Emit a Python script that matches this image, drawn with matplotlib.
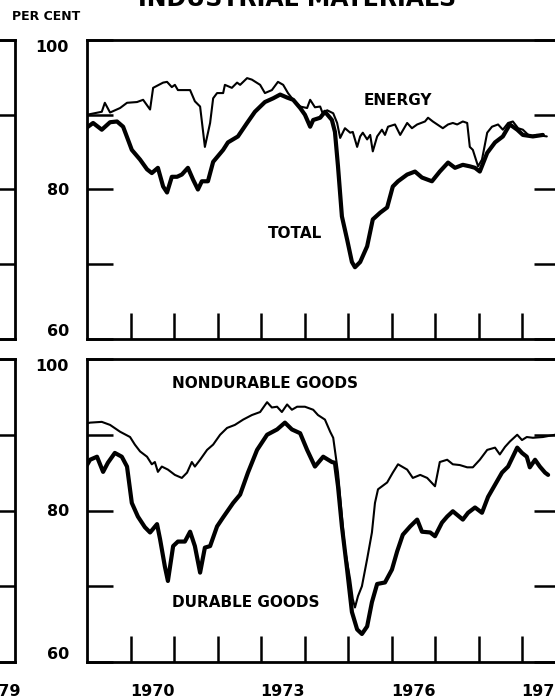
import matplotlib
matplotlib.use("Agg")
import matplotlib.pyplot as plt
import numpy as np

# --- data (decimal years, per cent of capacity) ---
energy_t = [1969.00, 1969.34, 1969.41, 1969.53, 1969.76, 1969.92, 1970.15, 1970.29, 1970.45, 1970.52,
            1970.75, 1970.84, 1970.95, 1971.02, 1971.09, 1971.37, 1971.48, 1971.60, 1971.71, 1971.83,
            1971.90, 1971.99, 1972.13, 1972.17, 1972.33, 1972.45, 1972.52, 1972.68, 1972.79, 1972.98,
            1973.09, 1973.25, 1973.39, 1973.51, 1973.62, 1973.78, 1973.90, 1974.06, 1974.13, 1974.24,
            1974.36, 1974.43, 1974.52, 1974.66, 1974.75, 1974.82, 1974.93, 1975.05, 1975.11, 1975.21,
            1975.28, 1975.34, 1975.44, 1975.51, 1975.57, 1975.67, 1975.78, 1975.85, 1975.92, 1976.08,
            1976.20, 1976.36, 1976.47, 1976.59, 1976.77, 1976.84, 1976.95, 1977.18, 1977.30, 1977.41,
            1977.51, 1977.64, 1977.74, 1977.80, 1977.87, 1977.99, 1978.08, 1978.20, 1978.31, 1978.45,
            1978.56, 1978.68, 1978.79, 1978.91, 1979.02, 1979.18, 1979.34, 1979.57]
energy_v = [90.0, 90.4, 91.6, 90.3, 90.9, 91.6, 91.7, 92.0, 90.7, 93.6,
            94.3, 94.4, 93.7, 94.0, 93.3, 93.3, 91.8, 91.1, 85.7, 88.9,
            92.2, 92.9, 92.9, 94.0, 93.6, 94.3, 94.0, 94.9, 94.7, 94.0,
            92.9, 93.3, 94.4, 94.0, 92.9, 91.7, 91.1, 90.9, 92.0, 91.0,
            91.1, 90.0, 90.6, 90.2, 88.9, 86.9, 88.2, 87.6, 87.7, 85.7,
            87.1, 87.6, 86.7, 87.3, 85.1, 87.1, 88.0, 87.3, 88.4, 88.7,
            87.3, 88.9, 88.2, 88.7, 89.1, 89.6, 89.1, 88.2, 88.7, 88.9,
            88.7, 89.1, 88.9, 85.7, 85.3, 83.1, 84.0, 87.6, 88.4, 88.7,
            88.0, 88.9, 89.1, 88.2, 88.0, 87.1, 87.3, 87.1]

total_t = [1969.00, 1969.14, 1969.34, 1969.53, 1969.69, 1969.83, 1969.94, 1970.03, 1970.22, 1970.38,
           1970.49, 1970.63, 1970.75, 1970.84, 1970.95, 1971.07, 1971.18, 1971.32, 1971.44, 1971.55,
           1971.64, 1971.78, 1971.90, 1972.13, 1972.24, 1972.47, 1972.68, 1972.86, 1973.09, 1973.28,
           1973.44, 1973.60, 1973.74, 1973.90, 1974.01, 1974.13, 1974.20, 1974.36, 1974.47, 1974.63,
           1974.70, 1974.77, 1974.86, 1974.98, 1975.09, 1975.16, 1975.28, 1975.44, 1975.57, 1975.74,
           1975.90, 1976.03, 1976.15, 1976.36, 1976.54, 1976.70, 1976.93, 1977.11, 1977.30, 1977.46,
           1977.64, 1977.80, 1977.92, 1978.03, 1978.20, 1978.38, 1978.56, 1978.72, 1978.89, 1979.02,
           1979.25, 1979.48]
total_v = [88.3, 88.9, 88.0, 89.0, 89.1, 88.4, 86.7, 85.3, 84.0, 82.7,
           82.2, 82.9, 80.4, 79.6, 81.7, 81.7, 82.0, 82.9, 81.3, 80.0,
           81.1, 81.1, 83.7, 85.3, 86.3, 87.1, 88.9, 90.4, 91.7, 92.2,
           92.7, 92.3, 92.0, 90.9, 90.0, 88.4, 89.3, 89.6, 90.4, 89.3,
           87.7, 83.1, 76.4, 73.3, 70.3, 69.6, 70.3, 72.4, 76.0, 76.9,
           77.6, 80.4, 81.1, 82.0, 82.4, 81.6, 81.1, 82.4, 83.6, 82.9,
           83.3, 83.1, 82.9, 82.4, 84.9, 86.3, 87.1, 88.7, 88.0, 87.3,
           87.1, 87.3]

nondur_t = [1969.00, 1969.07, 1969.34, 1969.53, 1969.76, 1969.99, 1970.10, 1970.22, 1970.38, 1970.49,
            1970.56, 1970.63, 1970.72, 1970.86, 1971.02, 1971.18, 1971.30, 1971.41, 1971.48, 1971.60,
            1971.76, 1971.90, 1972.06, 1972.22, 1972.40, 1972.59, 1972.79, 1972.98, 1973.14, 1973.25,
            1973.37, 1973.48, 1973.60, 1973.71, 1973.83, 1974.01, 1974.20, 1974.31, 1974.47, 1974.59,
            1974.66, 1974.72, 1974.77, 1974.86, 1974.93, 1975.05, 1975.11, 1975.16, 1975.23, 1975.32,
            1975.44, 1975.55, 1975.62, 1975.69, 1975.90, 1976.03, 1976.15, 1976.36, 1976.49, 1976.66,
            1976.82, 1977.00, 1977.11, 1977.28, 1977.41, 1977.57, 1977.74, 1977.87, 1978.03, 1978.20,
            1978.38, 1978.49, 1978.61, 1978.72, 1978.89, 1979.00, 1979.11, 1979.25, 1979.48, 1979.76]
nondur_v = [91.5, 91.6, 91.7, 91.3, 90.4, 89.7, 88.7, 87.8, 87.1, 86.1,
            86.4, 85.1, 85.8, 85.4, 84.7, 84.3, 85.0, 86.4, 85.8, 86.7,
            88.0, 88.7, 90.0, 90.9, 91.3, 92.0, 92.6, 93.0, 94.3, 93.6,
            93.7, 93.0, 94.0, 93.3, 93.7, 93.7, 93.3, 92.6, 92.0, 90.4,
            89.6, 87.1, 85.0, 79.2, 74.9, 70.9, 68.3, 67.2, 68.7, 70.0,
            73.6, 77.1, 81.0, 82.8, 83.7, 85.0, 86.1, 85.4, 84.3, 84.7,
            84.3, 83.2, 86.4, 86.7, 86.1, 86.0, 85.7, 85.7, 86.7, 88.0,
            88.3, 87.4, 88.4, 89.1, 90.0, 89.3, 89.7, 89.6, 89.7, 90.0]

durable_t = [1969.00, 1969.07, 1969.23, 1969.37, 1969.48, 1969.64, 1969.80, 1969.92, 1970.03, 1970.17,
             1970.33, 1970.45, 1970.61, 1970.68, 1970.79, 1970.86, 1970.98, 1971.09, 1971.25, 1971.37,
             1971.48, 1971.60, 1971.71, 1971.83, 1971.99, 1972.13, 1972.36, 1972.52, 1972.70, 1972.91,
             1973.14, 1973.37, 1973.55, 1973.71, 1973.90, 1974.06, 1974.24, 1974.43, 1974.63, 1974.70,
             1974.77, 1974.86, 1974.98, 1975.09, 1975.21, 1975.32, 1975.44, 1975.55, 1975.67, 1975.85,
             1976.01, 1976.13, 1976.26, 1976.43, 1976.59, 1976.70, 1976.89, 1977.00, 1977.16, 1977.28,
             1977.41, 1977.64, 1977.76, 1977.92, 1978.08, 1978.22, 1978.38, 1978.54, 1978.68, 1978.89,
             1979.00, 1979.11, 1979.18, 1979.30, 1979.41, 1979.53, 1979.60]
durable_v = [86.0, 86.7, 87.1, 85.1, 86.3, 87.6, 87.1, 85.8, 81.0, 79.2,
             77.8, 77.1, 78.2, 76.2, 72.6, 70.7, 75.3, 75.9, 75.9, 77.2,
             75.3, 71.8, 75.1, 75.3, 77.9, 79.1, 81.0, 82.1, 85.0, 88.0,
             90.0, 90.7, 91.6, 90.7, 90.2, 88.0, 85.8, 87.1, 86.4, 86.3,
             83.2, 77.9, 72.2, 66.6, 64.3, 63.7, 64.7, 67.9, 70.3, 70.5,
             72.2, 74.6, 76.8, 77.9, 78.8, 77.2, 77.1, 76.6, 78.4, 79.2,
             79.9, 78.8, 79.7, 80.4, 79.7, 81.8, 83.4, 85.0, 85.8, 88.3,
             87.6, 87.1, 85.7, 86.7, 85.8, 85.0, 84.7]

year_ticks = list(range(1970, 1980))
year_labels = ['1970', '1973', '1976', '1979']
y_ticks = [60, 70, 80, 90, 100]
y_labels = ['60', '', '80', '', '100']

W, H = 555, 700
plt.rcParams['font.family'] = 'DejaVu Sans'
plt.rcParams['font.weight'] = 'bold'
fig = plt.figure(figsize=(W / 100, H / 100), dpi=100)

px_per_year = 43.5
x_left, x_right = 87, 560
x0 = 1969
x1 = x0 + (x_right - x_left) / px_per_year


def frame(ax, labels, left_labels=True):
    ax.set_xlim(x0, x1)
    ax.set_ylim(60, 100)
    for s in ax.spines.values():
        s.set_linewidth(2.0)
    ax.set_xticks(year_ticks)
    ax.set_xticklabels([])
    ax.tick_params(axis='x', which='major', direction='in', length=19, width=1.8,
                   bottom=True, top=False)
    if labels:
        ax.set_xticks([int(y) + 0.5 for y in labels], minor=True)
        ax.set_xticklabels(labels, minor=True, fontsize=11.5, fontweight='bold')
        ax.tick_params(axis='x', which='minor', length=0, pad=16)
    ax.set_yticks(y_ticks)
    ax.tick_params(axis='y', direction='in', length=19, width=1.8, left=True, right=True,
                   labelleft=left_labels, pad=13)
    if left_labels:
        ax.set_yticklabels(y_labels, fontsize=11.5, fontweight='bold')
        tl = ax.get_yticklabels()
        tl[0].set_va('bottom')
        tl[-1].set_va('top')


def add_axes(left_px, right_px, top_px, bottom_px):
    return fig.add_axes([left_px / W, 1 - bottom_px / H,
                         (right_px - left_px) / W, (bottom_px - top_px) / H])


# cut-off neighbouring panels at the left edge
lp_top = add_axes(15 - (x_right - x_left), 15, 40, 339)
lp_bot = add_axes(15 - (x_right - x_left), 15, 359, 662)
frame(lp_top, None, left_labels=False)
frame(lp_bot, year_labels[-1:], left_labels=False)

ax1 = add_axes(x_left, x_right, 40, 339)
ax2 = add_axes(x_left, x_right, 359, 662)
frame(ax1, None)
frame(ax2, year_labels)

kw = dict(color='black', solid_joinstyle='round', solid_capstyle='round')
ax1.plot(energy_t, energy_v, lw=1.5, **kw)
ax1.plot(total_t, total_v, lw=3.0, **kw)
ax2.plot(nondur_t, nondur_v, lw=1.5, **kw)
ax2.plot(durable_t, durable_v, lw=3.0, **kw)

lab = dict(fontsize=11, fontweight='bold', color='black', va='center')
ax1.text(1976.15, 91.9, 'ENERGY', ha='center', **lab)
ax1.text(1973.78, 74.1, 'TOTAL', ha='center', **lab)
ax2.text(1970.95, 96.8, 'NONDURABLE GOODS', ha='left', **lab)
ax2.text(1970.95, 67.9, 'DURABLE GOODS', ha='left', **lab)

fig.text(297 / W, 1 - 6 / H, 'INDUSTRIAL MATERIALS', ha='center', va='baseline',
         fontsize=17, fontweight='bold')
fig.text(12 / W, 1 - 17 / H, 'PER CENT', ha='left', va='center', fontsize=9, fontweight='bold')

fig.savefig('out.png', dpi=100, facecolor='white')
